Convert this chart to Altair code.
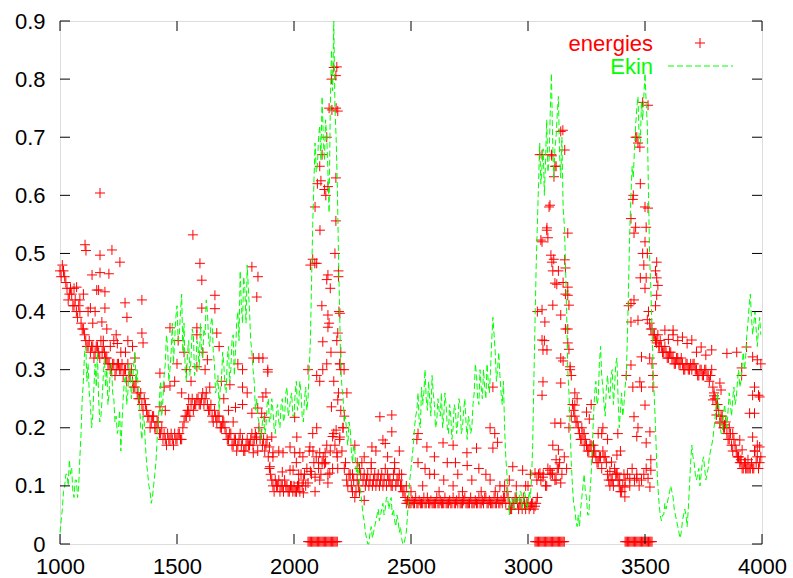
import altair as alt
import pandas as pd

# ---------------- data ----------------
band_x = list(range(1000, 4000, 10))
band_y = [
    0.47, 0.48, 0.46, 0.44, 0.43, 0.43, 0.41, 0.40, 0.41, 0.38,
    0.37, 0.35, 0.34, 0.33, 0.34, 0.33, 0.34, 0.32, 0.33, 0.33,
    0.32, 0.31, 0.30, 0.31, 0.30, 0.31, 0.30, 0.29, 0.30, 0.31,
    0.29, 0.28, 0.27, 0.26, 0.25, 0.24, 0.25, 0.23, 0.22, 0.21,
    0.22, 0.20, 0.21, 0.19, 0.18, 0.18, 0.19, 0.18, 0.18, 0.19,
    0.18, 0.19, 0.18, 0.21, 0.22, 0.23, 0.24, 0.23, 0.24, 0.25,
    0.24, 0.26, 0.25, 0.24, 0.23, 0.22, 0.23, 0.21, 0.22, 0.20,
    0.21, 0.19, 0.18, 0.19, 0.17, 0.18, 0.17, 0.19, 0.18, 0.16,
    0.18, 0.17, 0.19, 0.18, 0.18, 0.20, 0.19, 0.18, 0.17, 0.15,
    0.12, 0.10, 0.11, 0.10, 0.09, 0.10, 0.11, 0.10, 0.09, 0.10,
    0.10, 0.09, 0.10, 0.12, 0.11, 0.10, 0.30, 0.48, 0.49, 0.58,
    0.62, 0.65, 0.67, 0.61, 0.70, 0.75, 0.80, 0.82, 0.75, 0.47,
    0.30, 0.20, 0.14, 0.10, 0.12, 0.09, 0.08, 0.11, 0.13, 0.14,
    0.12, 0.11, 0.10, 0.13, 0.11, 0.10, 0.12, 0.11, 0.10, 0.13,
    0.12, 0.11, 0.10, 0.13, 0.11, 0.12, 0.10, 0.09, 0.07, 0.07,
    0.07, 0.07, 0.08, 0.07, 0.07, 0.07, 0.07, 0.08, 0.07, 0.07,
    0.07, 0.08, 0.07, 0.07, 0.07, 0.07, 0.07, 0.07, 0.08, 0.07,
    0.07, 0.07, 0.07, 0.08, 0.07, 0.07, 0.07, 0.07, 0.07, 0.08,
    0.07, 0.07, 0.08, 0.07, 0.07, 0.07, 0.07, 0.08, 0.07, 0.07,
    0.08, 0.09, 0.07, 0.06, 0.07, 0.08, 0.06, 0.07, 0.08, 0.06,
    0.07, 0.065, 0.07, 0.065, 0.40, 0.67, 0.52, 0.35, 0.54, 0.58,
    0.67, 0.49, 0.65, 0.47, 0.71, 0.45, 0.43, 0.37, 0.30, 0.24,
    0.22, 0.21, 0.19, 0.18, 0.17, 0.17, 0.16, 0.17, 0.16, 0.15,
    0.14, 0.15, 0.16, 0.15, 0.12, 0.10, 0.11, 0.13, 0.12, 0.10,
    0.09, 0.12, 0.29, 0.41, 0.56, 0.60, 0.70, 0.69, 0.62, 0.76,
    0.58, 0.50, 0.38, 0.37, 0.36, 0.35, 0.34, 0.34, 0.33, 0.33,
    0.32, 0.33, 0.32, 0.31, 0.32, 0.31, 0.31, 0.30, 0.31, 0.30,
    0.30, 0.31, 0.30, 0.29, 0.30, 0.29, 0.30, 0.29, 0.29, 0.27,
    0.25, 0.24, 0.21, 0.22, 0.20, 0.19, 0.18, 0.17, 0.18, 0.16,
    0.15, 0.14, 0.13, 0.13, 0.13, 0.13, 0.13, 0.16, 0.15, 0.14,
]

band2_x = list(range(1005, 4000, 10))
band2_y = [
    0.46, 0.47, 0.45, 0.42, 0.44, 0.41, 0.42, 0.39, 0.40, 0.37,
    0.36, 0.34, 0.35, 0.34, 0.32, 0.34, 0.33, 0.35, 0.34, 0.32,
    0.31, 0.30, 0.31, 0.29, 0.31, 0.30, 0.31, 0.30, 0.28, 0.29,
    0.30, 0.27, 0.28, 0.25, 0.26, 0.23, 0.24, 0.22, 0.20, 0.22,
    0.20, 0.21, 0.19, 0.20, 0.19, 0.17, 0.18, 0.19, 0.17, 0.18,
    0.19, 0.18, 0.20, 0.22, 0.23, 0.22, 0.25, 0.24, 0.25, 0.24,
    0.25, 0.24, 0.26, 0.23, 0.24, 0.21, 0.22, 0.22, 0.20, 0.21,
    0.20, 0.18, 0.19, 0.17, 0.18, 0.16, 0.18, 0.17, 0.16, 0.17,
    0.17, 0.18, 0.17, 0.19, 0.16, 0.18, 0.17, 0.16, 0.18, 0.13,
    0.11, 0.09, 0.10, 0.11, 0.10, 0.09, 0.10, 0.09, 0.10, 0.09,
    0.09, 0.10, 0.09, 0.10, 0.12, 0.13, 0.16, 0.12, 0.14, 0.15,
    0.13, 0.12, 0.15, 0.14, 0.12, 0.16, 0.13, 0.17, 0.15, 0.18,
    0.16, 0.13, 0.11, 0.12, 0.10, 0.11, 0.09, 0.10, 0.12, 0.11,
    0.10, 0.12, 0.11, 0.10, 0.12, 0.11, 0.10, 0.12, 0.11, 0.10,
    0.11, 0.10, 0.12, 0.10, 0.11, 0.10, 0.09, 0.08, 0.075, 0.07,
    0.075, 0.07, 0.07, 0.075, 0.07, 0.08, 0.07, 0.07, 0.075, 0.07,
    0.07, 0.07, 0.075, 0.07, 0.08, 0.07, 0.075, 0.07, 0.07, 0.075,
    0.08, 0.07, 0.075, 0.07, 0.07, 0.08, 0.07, 0.075, 0.07, 0.07,
    0.075, 0.08, 0.07, 0.075, 0.07, 0.08, 0.07, 0.07, 0.075, 0.08,
    0.07, 0.08, 0.06, 0.07, 0.08, 0.07, 0.07, 0.06, 0.07, 0.07,
    0.06, 0.07, 0.06, 0.07, 0.12, 0.11, 0.12, 0.10, 0.13, 0.12,
    0.12, 0.11, 0.13, 0.14, 0.12, 0.15, 0.13, 0.20, 0.22, 0.23,
    0.21, 0.20, 0.18, 0.19, 0.18, 0.16, 0.17, 0.15, 0.16, 0.14,
    0.15, 0.13, 0.15, 0.14, 0.11, 0.11, 0.10, 0.12, 0.11, 0.09,
    0.10, 0.11, 0.12, 0.10, 0.13, 0.11, 0.12, 0.10, 0.11, 0.12,
    0.13, 0.40, 0.37, 0.36, 0.35, 0.36, 0.35, 0.33, 0.34, 0.32,
    0.33, 0.32, 0.31, 0.32, 0.31, 0.32, 0.30, 0.31, 0.30, 0.31,
    0.31, 0.30, 0.29, 0.30, 0.29, 0.30, 0.29, 0.28, 0.30, 0.26,
    0.24, 0.23, 0.22, 0.20, 0.21, 0.18, 0.19, 0.16, 0.17, 0.15,
    0.14, 0.13, 0.14, 0.13, 0.13, 0.14, 0.13, 0.14, 0.13, 0.15,
]

scatter_x = [
    1071, 1107, 1111, 1137, 1157, 1171, 1171, 1171, 1179, 1192, 1192, 1209, 1222, 1256, 1278, 1286, 1350, 1350, 1355,
    1085, 1120, 1150, 1165, 1130, 1100, 1200, 1230, 1245, 1260, 1280, 1310, 1320, 1240, 1290, 1060, 1140, 1185, 1215,
    1568, 1598, 1606, 1606, 1662, 1662, 1820, 1846, 1841, 1470, 1585, 1585, 1505, 1670, 1630, 1680, 1500, 1540, 1585,
    1620, 1760, 1780, 1826, 1850, 1888, 1427, 1445, 1470, 1490, 1726, 1780, 1800, 1845, 1820, 1780, 1750, 1720, 1427,
    1450, 1826, 1840, 1910, 1935, 2012, 2003, 2003, 1983, 1897, 1867, 1888, 1867, 1880, 1862, 1875, 1905, 1895, 1910,
    1953, 1983, 2025, 1996, 2020, 1950, 1520, 1550, 1560, 1640, 1700, 1690, 1740, 1610, 1530,
    2068, 2097, 2080, 2110, 2120, 2153, 2145, 2090, 2110, 2183, 2187, 2196, 2209, 2187, 2190, 2226, 2196, 2200, 2183,
    2187, 2196, 2192, 2145, 2158, 2123, 2097, 2110, 2140, 2123, 2119, 2145, 2150, 2081, 2038, 2133, 2140, 2130, 2105,
    2070, 2010, 2020, 2060, 2090, 2040, 2010, 2183, 2179, 2187, 2162, 2179, 2115, 2145, 2136, 2179, 2111, 2175, 2097,
    2089, 2145, 2140, 2155, 2190, 2196, 2214, 2170, 2160, 2200, 2215, 2180, 2170, 2165,
    2367, 2418, 2418, 2333, 2380, 2390, 2450, 2530, 2525, 2568, 2637, 2680, 2739, 2780, 2838, 2850, 2858, 2850, 2870,
    2935, 2977, 2920, 2838, 2790, 2740, 2690, 2655, 2600, 2640, 2560, 2580, 2530, 2600, 2700, 2760, 2820, 2880, 2300,
    2330, 2270, 2260, 2350, 2400, 2430, 2460, 2480, 2250, 2280, 2300, 2550, 2620, 2680, 2720, 2800, 2860, 2900, 2950,
    2990, 2500,
    3149, 3157, 3060, 3102, 3115, 3111, 3094, 3081, 3085, 3055, 3170, 3098, 3102, 3106, 3123, 3157, 3160, 3170, 3115,
    3170, 3175, 3106, 3060, 3072, 3140, 3160, 3170, 3175, 3140, 3150, 3060, 3064, 3081, 3180, 3185, 3064, 3060, 3140,
    3200, 3200, 3250, 3262, 3115, 3140, 3106, 3130, 3120, 3094, 3102, 3130, 3120, 3140, 3051, 3064, 3038, 3030, 3010,
    3000, 3080, 3040,
    3320, 3315, 3384, 3380, 3395, 3357, 3350, 3380, 3392, 3435, 3465, 3414, 3414, 3513, 3521, 3525, 3525, 3300, 3230,
    3280, 3240, 3210, 3270, 3340,
    3513, 3465, 3478, 3448, 3513, 3460, 3505, 3453, 3500, 3490, 3495, 3550, 3545, 3550, 3505, 3480, 3453, 3470, 3465,
    3505, 3521, 3478, 3485, 3500, 3448, 3534, 3534, 3440, 3485, 3520, 3530, 3440, 3470, 3510, 3440, 3453, 3500, 3550,
    3555, 3545, 3550, 3560,
    3585, 3620, 3660, 3700, 3740, 3785, 3850, 3640, 3680, 3620, 3600, 3720, 3760, 3820, 3825, 3790, 3795, 3805, 3820,
    3840, 3875, 3860, 3905, 3960, 3990, 3968, 3980, 3947, 3968, 3960, 3990, 3968, 3980, 3960, 3995, 3985, 3913, 3913,
    3892, 3934, 3915, 3900, 3910, 3940, 3930,
]
scatter_y = [
    0.442, 0.515, 0.505, 0.463, 0.437, 0.604, 0.497, 0.467, 0.382, 0.434, 0.406, 0.465, 0.506, 0.485, 0.415, 0.39, 0.42, 0.363, 0.346,
    0.42, 0.40, 0.40, 0.437, 0.406, 0.43, 0.37, 0.35, 0.345, 0.33, 0.33, 0.34, 0.32, 0.36, 0.35, 0.44, 0.38, 0.35, 0.34,
    0.532, 0.483, 0.454, 0.406, 0.428, 0.405, 0.477, 0.46, 0.425, 0.372, 0.372, 0.36, 0.35, 0.363, 0.317, 0.34, 0.31, 0.30, 0.305,
    0.30, 0.31, 0.30, 0.32, 0.32, 0.296, 0.294, 0.27, 0.272, 0.28, 0.274, 0.27, 0.26, 0.234, 0.225, 0.24, 0.235, 0.23, 0.236,
    0.23, 0.157, 0.184, 0.157, 0.16, 0.184, 0.218, 0.157, 0.127, 0.133, 0.32, 0.30, 0.253, 0.26, 0.225, 0.218, 0.184, 0.167, 0.15,
    0.157, 0.167, 0.157, 0.127, 0.12, 0.124, 0.26, 0.25, 0.28, 0.27, 0.25, 0.28, 0.21, 0.33, 0.33,
    0.167, 0.20, 0.19, 0.157, 0.14, 0.122, 0.105, 0.115, 0.11, 0.157, 0.13, 0.184, 0.20, 0.248, 0.26, 0.26, 0.31, 0.33, 0.35,
    0.363, 0.397, 0.40, 0.373, 0.33, 0.30, 0.29, 0.28, 0.31, 0.348, 0.41, 0.394, 0.38, 0.16, 0.15, 0.157, 0.17, 0.138, 0.14,
    0.125, 0.14, 0.105, 0.105, 0.09, 0.088, 0.09, 0.821, 0.806, 0.745, 0.747, 0.63, 0.625, 0.615, 0.60, 0.556, 0.54, 0.50, 0.483,
    0.483, 0.463, 0.455, 0.44, 0.46, 0.31, 0.30, 0.28, 0.236, 0.23, 0.22, 0.196, 0.19, 0.185,
    0.219, 0.222, 0.193, 0.167, 0.179, 0.173, 0.16, 0.19, 0.18, 0.167, 0.174, 0.17, 0.157, 0.165, 0.20, 0.27, 0.19, 0.165, 0.175,
    0.133, 0.127, 0.11, 0.11, 0.13, 0.135, 0.14, 0.14, 0.15, 0.11, 0.13, 0.12, 0.14, 0.12, 0.12, 0.11, 0.12, 0.10, 0.15,
    0.14, 0.14, 0.17, 0.16, 0.15, 0.14, 0.12, 0.10, 0.12, 0.09, 0.075, 0.10, 0.09, 0.10, 0.09, 0.09, 0.09, 0.10, 0.10,
    0.10, 0.09,
    0.712, 0.678, 0.67, 0.668, 0.65, 0.632, 0.583, 0.544, 0.527, 0.523, 0.535, 0.497, 0.485, 0.47, 0.447, 0.489, 0.475, 0.442, 0.449,
    0.428, 0.411, 0.411, 0.403, 0.382, 0.394, 0.37, 0.346, 0.335, 0.32, 0.315, 0.351, 0.334, 0.334, 0.305, 0.29, 0.279, 0.256, 0.277,
    0.26, 0.239, 0.227, 0.215, 0.208, 0.208, 0.17, 0.162, 0.145, 0.127, 0.122, 0.13, 0.11, 0.105, 0.122, 0.115, 0.11, 0.122, 0.12,
    0.10, 0.10, 0.08,
    0.20, 0.19, 0.19, 0.153, 0.16, 0.141, 0.125, 0.122, 0.11, 0.113, 0.113, 0.098, 0.081, 0.113, 0.098, 0.127, 0.145, 0.19, 0.20,
    0.17, 0.19, 0.25, 0.24, 0.18,
    0.755, 0.70, 0.683, 0.593, 0.578, 0.545, 0.545, 0.535, 0.52, 0.50, 0.48, 0.485, 0.47, 0.458, 0.458, 0.458, 0.219, 0.20, 0.185,
    0.174, 0.193, 0.279, 0.27, 0.239, 0.27, 0.27, 0.29, 0.308, 0.322, 0.32, 0.31, 0.382, 0.385, 0.386, 0.414, 0.42, 0.44, 0.428,
    0.445, 0.41, 0.346, 0.34,
    0.368, 0.368, 0.356, 0.351, 0.339, 0.334, 0.328, 0.35, 0.345, 0.36, 0.352, 0.33, 0.325, 0.277, 0.265, 0.248, 0.255, 0.222, 0.208,
    0.205, 0.19, 0.20, 0.179, 0.184, 0.167, 0.16, 0.17, 0.225, 0.225, 0.256, 0.253, 0.27, 0.317, 0.322, 0.31, 0.256, 0.303, 0.29,
    0.33, 0.339, 0.162, 0.15, 0.145, 0.145, 0.14,
]

zero_x = (list(range(2060, 2190, 5)) + list(range(3030, 3160, 5))
          + list(range(3415, 3535, 5)))
zero_y = [0.004] * len(zero_x)

ekin_x = list(range(1000, 4000, 10))
ekin_y = [
    0.02, 0.06, 0.10, 0.12, 0.145, 0.13, 0.08, 0.11, 0.10, 0.19,
    0.28, 0.34, 0.31, 0.24, 0.22, 0.31, 0.33, 0.21, 0.25, 0.32,
    0.30, 0.26, 0.31, 0.25, 0.22, 0.20, 0.16, 0.25, 0.29, 0.26,
    0.30, 0.28, 0.33, 0.30, 0.24, 0.18, 0.21, 0.14, 0.10, 0.07,
    0.10, 0.14, 0.21, 0.28, 0.25, 0.31, 0.34, 0.30, 0.38, 0.35,
    0.41, 0.36, 0.43, 0.38, 0.28, 0.35, 0.32, 0.36, 0.30, 0.34,
    0.38, 0.32, 0.36, 0.40, 0.34, 0.39, 0.31, 0.27, 0.23, 0.28,
    0.31, 0.26, 0.34, 0.30, 0.36, 0.33, 0.40, 0.47, 0.38, 0.44,
    0.48, 0.40, 0.33, 0.28, 0.25, 0.21, 0.18, 0.22, 0.20, 0.25,
    0.21, 0.23, 0.19, 0.24, 0.20, 0.25, 0.22, 0.27, 0.23, 0.26,
    0.22, 0.28, 0.24, 0.26, 0.21, 0.27, 0.25, 0.35, 0.55, 0.69,
    0.65, 0.72, 0.77, 0.66, 0.70, 0.57, 0.85, 0.90, 0.70, 0.50,
    0.30, 0.25, 0.22, 0.17, 0.20, 0.14, 0.16, 0.12, 0.10, 0.07,
    0.04, 0.01, 0.00, 0.03, 0.02, 0.04, 0.06, 0.05, 0.07, 0.06,
    0.08, 0.07, 0.05, 0.04, 0.05, 0.02, 0.01, 0.00, 0.02, 0.08,
    0.13, 0.17, 0.22, 0.26, 0.20, 0.24, 0.30, 0.23, 0.25, 0.29,
    0.24, 0.21, 0.23, 0.26, 0.22, 0.24, 0.19, 0.22, 0.20, 0.23,
    0.21, 0.24, 0.20, 0.25, 0.18, 0.21, 0.20, 0.26, 0.29, 0.24,
    0.27, 0.30, 0.25, 0.28, 0.30, 0.39, 0.33, 0.30, 0.29, 0.24,
    0.20, 0.12, 0.05, 0.08, 0.06, 0.09, 0.07, 0.09, 0.07, 0.08,
    0.07, 0.08, 0.17, 0.38, 0.55, 0.69, 0.65, 0.60, 0.73, 0.66,
    0.81, 0.63, 0.70, 0.77, 0.63, 0.58, 0.49, 0.30, 0.20, 0.10,
    0.06, 0.03, 0.03, 0.08, 0.12, 0.08, 0.05, 0.12, 0.22, 0.28,
    0.25, 0.34, 0.27, 0.22, 0.29, 0.25, 0.30, 0.27, 0.32, 0.20,
    0.26, 0.24, 0.29, 0.45, 0.60, 0.63, 0.72, 0.77, 0.69, 0.73,
    0.81, 0.72, 0.49, 0.37, 0.25, 0.14, 0.07, 0.04, 0.05, 0.06,
    0.08, 0.10, 0.08, 0.05, 0.03, 0.01, 0.04, 0.06, 0.03, 0.10,
    0.17, 0.14, 0.11, 0.13, 0.12, 0.15, 0.11, 0.13, 0.16, 0.18,
    0.22, 0.26, 0.21, 0.19, 0.24, 0.20, 0.26, 0.22, 0.27, 0.25,
    0.30, 0.28, 0.33, 0.32, 0.38, 0.43, 0.36, 0.40, 0.34, 0.39,
]

ekin_mid_x = list(range(1005, 4000, 10))
ekin_mid_y = [
    0.04, 0.09, 0.12, 0.10, 0.12, 0.09, 0.11, 0.08, 0.15, 0.25,
    0.33, 0.28, 0.26, 0.20, 0.27, 0.27, 0.25, 0.22, 0.29, 0.27,
    0.24, 0.30, 0.26, 0.21, 0.19, 0.23, 0.21, 0.28, 0.24, 0.31,
    0.25, 0.31, 0.28, 0.26, 0.20, 0.22, 0.17, 0.12, 0.09, 0.08,
    0.12, 0.18, 0.25, 0.22, 0.29, 0.36, 0.28, 0.33, 0.31, 0.39,
    0.35, 0.40, 0.33, 0.30, 0.33, 0.29, 0.37, 0.29, 0.35, 0.30,
    0.33, 0.37, 0.42, 0.35, 0.38, 0.33, 0.26, 0.29, 0.27, 0.33,
    0.27, 0.32, 0.28, 0.35, 0.29, 0.38, 0.35, 0.41, 0.46, 0.38,
    0.44, 0.35, 0.30, 0.23, 0.22, 0.19, 0.21, 0.19, 0.24, 0.21,
    0.25, 0.20, 0.23, 0.21, 0.24, 0.21, 0.26, 0.22, 0.25, 0.22,
    0.26, 0.23, 0.28, 0.22, 0.25, 0.23, 0.30, 0.45, 0.62, 0.64,
    0.70, 0.66, 0.70, 0.73, 0.64, 0.75, 0.78, 0.75, 0.62, 0.40,
    0.27, 0.21, 0.19, 0.21, 0.16, 0.17, 0.13, 0.14, 0.09, 0.05,
    0.02, 0.00, 0.02, 0.01, 0.03, 0.05, 0.04, 0.06, 0.05, 0.08,
    0.06, 0.08, 0.06, 0.03, 0.04, 0.03, 0.00, 0.01, 0.05, 0.11,
    0.15, 0.20, 0.23, 0.21, 0.27, 0.26, 0.25, 0.28, 0.22, 0.26,
    0.20, 0.25, 0.22, 0.20, 0.26, 0.20, 0.24, 0.18, 0.24, 0.19,
    0.25, 0.19, 0.23, 0.21, 0.22, 0.19, 0.24, 0.31, 0.25, 0.30,
    0.25, 0.27, 0.31, 0.26, 0.35, 0.36, 0.28, 0.33, 0.26, 0.28,
    0.15, 0.08, 0.07, 0.07, 0.08, 0.07, 0.09, 0.06, 0.09, 0.06,
    0.09, 0.11, 0.28, 0.48, 0.62, 0.62, 0.68, 0.66, 0.64, 0.74,
    0.70, 0.68, 0.74, 0.67, 0.70, 0.55, 0.40, 0.26, 0.14, 0.07,
    0.04, 0.05, 0.06, 0.10, 0.09, 0.05, 0.09, 0.17, 0.26, 0.24,
    0.31, 0.29, 0.24, 0.27, 0.26, 0.29, 0.24, 0.31, 0.25, 0.23,
    0.22, 0.27, 0.36, 0.54, 0.65, 0.68, 0.75, 0.70, 0.76, 0.77,
    0.76, 0.60, 0.44, 0.30, 0.20, 0.10, 0.05, 0.05, 0.07, 0.07,
    0.09, 0.09, 0.06, 0.04, 0.02, 0.02, 0.05, 0.05, 0.06, 0.14,
    0.15, 0.12, 0.12, 0.10, 0.14, 0.13, 0.12, 0.15, 0.17, 0.20,
    0.24, 0.23, 0.19, 0.22, 0.22, 0.23, 0.24, 0.25, 0.24, 0.28,
    0.27, 0.31, 0.30, 0.36, 0.41, 0.39, 0.38, 0.37, 0.37, 0.36,
]

x_ticks = [1000, 1500, 2000, 2500, 3000, 3500, 4000]
y_ticks = [0, 0.1, 0.2, 0.3, 0.4, 0.5, 0.6, 0.7, 0.8, 0.9]

# ---------------- chart ----------------
W, H = 702, 523
FONT = "Liberation Sans"
FS = 22
RED = "#ff0000"
GREEN = "#00ff00"
CROSS = "M-1,0L1,0M0,-1L0,1"

energies = pd.DataFrame({
    "x": band_x + band2_x + scatter_x + zero_x,
    "y": band_y + band2_y + scatter_y + zero_y,
})
ekin = pd.DataFrame({"x": ekin_x + ekin_mid_x, "y": ekin_y + ekin_mid_y}).sort_values("x")

xs = alt.Scale(domain=[1000, 4000], nice=False, zero=False)
ys = alt.Scale(domain=[0, 0.9], nice=False, zero=False)

x_axis = alt.Axis(values=x_ticks, format="d", ticks=False, domain=False, grid=False,
                  labelFlush=False, labelFontSize=FS, labelFont=FONT, labelColor="black",
                  labelPadding=12, title=None)
y_axis = alt.Axis(values=y_ticks, labelExpr="datum.value == 0 ? '0' : format(datum.value, '.1f')",
                  ticks=False, domain=False, grid=False, labelFlush=False,
                  labelFontSize=FS, labelFont=FONT, labelColor="black",
                  labelPadding=15, title=None)

pts = alt.Chart(energies).mark_point(
    shape=CROSS, size=100, filled=False, stroke=RED, strokeWidth=1, opacity=1
).encode(
    x=alt.X("x:Q", scale=xs, axis=x_axis),
    y=alt.Y("y:Q", scale=ys, axis=y_axis),
)

line = alt.Chart(ekin).mark_line(
    color=GREEN, strokeWidth=1, strokeDash=[6, 3]
).encode(
    x=alt.X("x:Q", scale=xs),
    y=alt.Y("y:Q", scale=ys),
    order=alt.Order("x:Q"),
)

xt = pd.DataFrame({"v": x_ticks})
yt = pd.DataFrame({"v": y_ticks})
TL = 10
tick_b = alt.Chart(xt).mark_rule(color="black", strokeWidth=1).encode(
    x=alt.X("v:Q", scale=xs), y=alt.value(H), y2=alt.value(H - TL))
tick_t = alt.Chart(xt).mark_rule(color="black", strokeWidth=1).encode(
    x=alt.X("v:Q", scale=xs), y=alt.value(0), y2=alt.value(TL))
tick_l = alt.Chart(yt).mark_rule(color="black", strokeWidth=1).encode(
    y=alt.Y("v:Q", scale=ys), x=alt.value(0), x2=alt.value(TL))
tick_r = alt.Chart(yt).mark_rule(color="black", strokeWidth=1).encode(
    y=alt.Y("v:Q", scale=ys), x=alt.value(W), x2=alt.value(W - TL))

one = pd.DataFrame({"a": [1]})
leg_e = alt.Chart(one).mark_text(align="right", baseline="alphabetic", font=FONT,
                                 fontSize=FS, color=RED).encode(
    x=alt.value(593), y=alt.value(30), text=alt.value("energies"))
leg_ek = alt.Chart(one).mark_text(align="right", baseline="alphabetic", font=FONT,
                                  fontSize=FS, color=GREEN).encode(
    x=alt.value(593), y=alt.value(53), text=alt.value("Ekin"))
leg_p = alt.Chart(one).mark_point(shape=CROSS, size=100, filled=False, stroke=RED,
                                  strokeWidth=1, opacity=1).encode(
    x=alt.value(640), y=alt.value(22))
leg_l = alt.Chart(one).mark_rule(color=GREEN, strokeWidth=1, strokeDash=[6, 3]).encode(
    x=alt.value(608), x2=alt.value(673), y=alt.value(45))

chart = alt.layer(
    pts, line, tick_b, tick_t, tick_l, tick_r, leg_e, leg_ek, leg_p, leg_l
).properties(
    width=W, height=H,
    autosize=alt.AutoSizeParams(type="none"),
    padding={"left": 60, "top": 21, "right": 31, "bottom": 34},
).configure_view(stroke="black", strokeWidth=1).configure(background="white")

chart.save("out.html", embed_options={"renderer": "svg", "actions": False})
